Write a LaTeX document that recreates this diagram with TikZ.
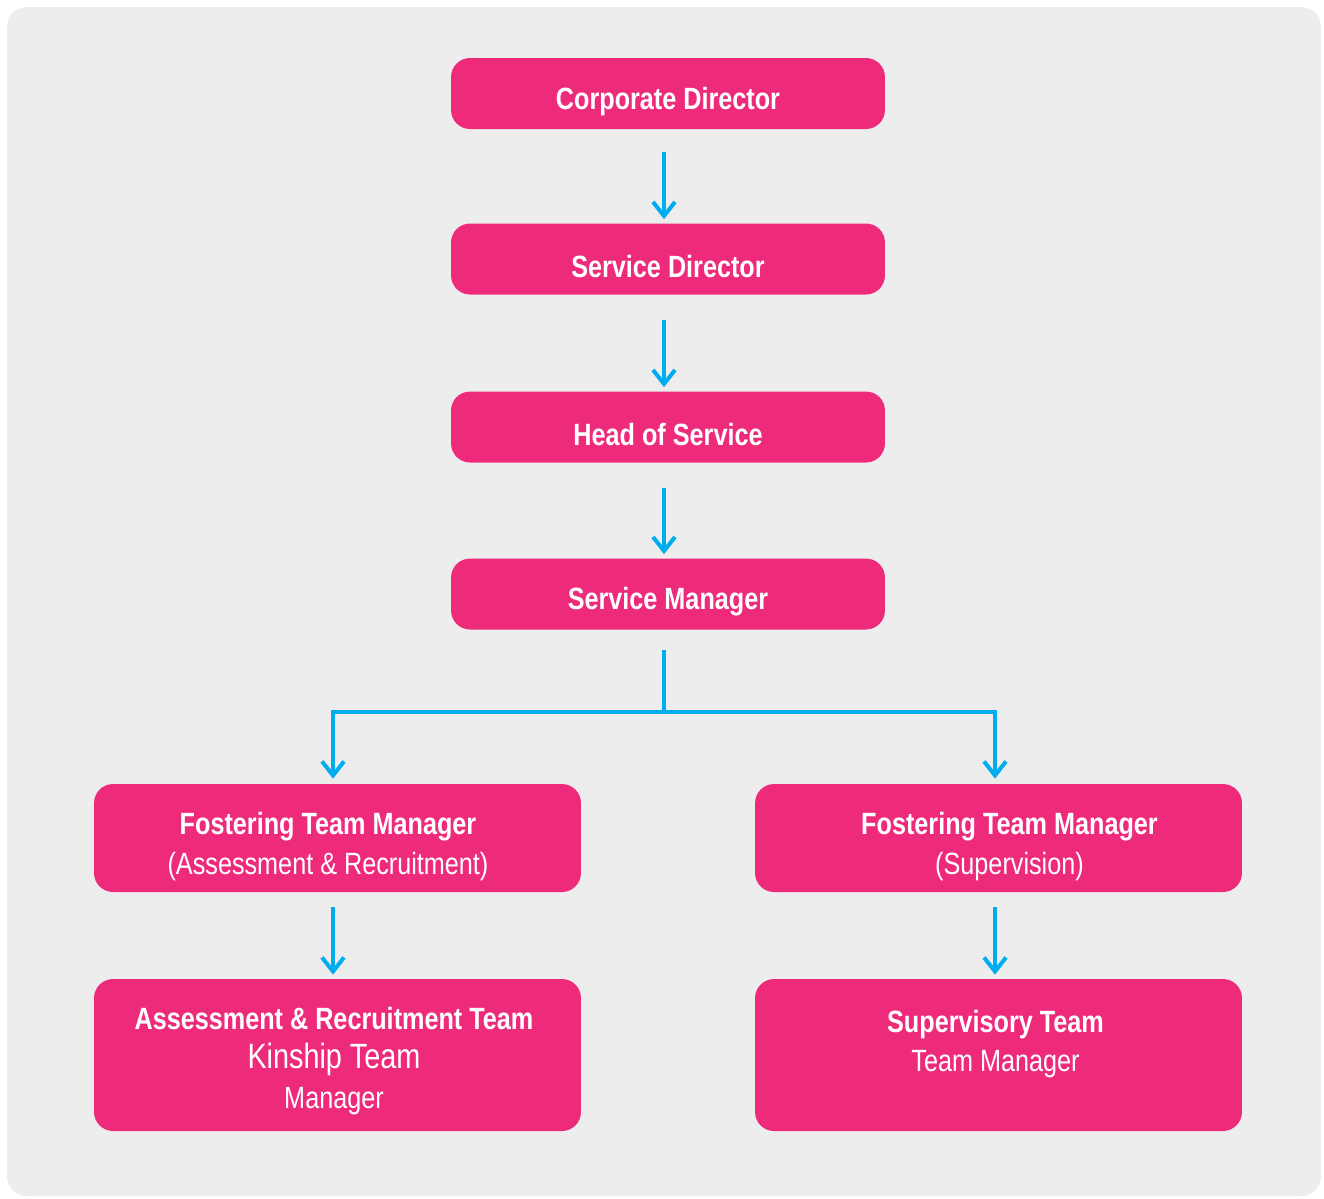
\documentclass[tikz,border=0pt]{standalone}
\usepackage{fontspec}
\setmainfont{Liberation Sans}[FakeStretch=0.82]
\usetikzlibrary{arrows.meta,positioning}

\definecolor{postpink}{RGB}{238,42,123}
\definecolor{linkblue}{RGB}{0,174,239}
\definecolor{panelgrey}{RGB}{237,237,237}

\tikzset{
  caption/.style={text=white, align=center, font=\fontsize{17.5}{22.5}\selectfont},
  post/.style={caption, fill=postpink, rounded corners=0.38cm,
    minimum width=8.68cm, minimum height=1.42cm,
    execute at begin node={\rule{0pt}{21.5pt}}},
  widepost/.style={post, minimum width=9.74cm, minimum height=2.16cm},
  tallpost/.style={widepost, minimum height=3.04cm},
  link/.style={linkblue, line width=0.08cm, -{Straight Barb[length=0.28cm,width=0.44cm]}},
}

\begin{document}
\begin{tikzpicture}[x=0.02cm,y=-0.02cm]

  % page and grey panel
  \useasboundingbox (0,0) rectangle (1324,1198);
  \fill[white] (0,0) rectangle (1324,1198);
  \fill[panelgrey, rounded corners=0.4cm] (7,7) rectangle (1321,1196);

  % chain of posts
  \node[post] (corp) at (668,93.5) {\textbf{Corporate Director}};
  \node[post] (sdir) at (668,259) {\textbf{Service Director}};
  \node[post] (head) at (668,427) {\textbf{Head of Service}};
  \node[post] (smgr) at (668,594) {\textbf{Service Manager}};

  % two branches
  \node[widepost, label={[caption, xshift=-0.19cm, yshift=-0.17cm]center:%
      \textbf{Fostering Team Manager}\\(Assessment \& Recruitment)}]
    (ftmar) at (337.5,838) {};
  \node[widepost, label={[caption, xshift=0.22cm, yshift=-0.17cm]center:%
      \textbf{Fostering Team Manager}\\(Supervision)}]
    (ftmsup) at (998.5,838) {};

  \node[tallpost, label={[caption, xshift=-0.07cm, yshift=-0.12cm]center:%
      \textbf{Assessment \& Recruitment Team}\\{\fontsize{20}{22.5}\selectfont Kinship Team}\\Manager}]
    (arteam) at (337.5,1055) {};
  \node[tallpost, label={[caption, xshift=-0.06cm, yshift=0.22cm]center:%
      \textbf{Supervisory Team}\\Team Manager}]
    (supteam) at (998.5,1055) {};

  % arrows
  \draw[link, shorten <=0.46cm, shorten >=0.08cm] ([xshift=-0.08cm]corp.south) -- ([xshift=-0.08cm]sdir.north);
  \draw[link, shorten <=0.5cm, shorten >=0.08cm] ([xshift=-0.08cm]sdir.south) -- ([xshift=-0.08cm]head.north);
  \draw[link, shorten <=0.5cm, shorten >=0.08cm] ([xshift=-0.08cm]head.south) -- ([xshift=-0.08cm]smgr.north);

  \draw[link, shorten >=0.1cm] ([xshift=-0.08cm]smgr.south) ++(0,20) -- ++(0,62) -| ([xshift=-0.09cm]ftmar.north);
  \draw[link, shorten >=0.1cm] ([xshift=-0.08cm]smgr.south) ++(0,20) -- ++(0,62) -| ([xshift=-0.07cm]ftmsup.north);

  \draw[link, shorten <=0.3cm, shorten >=0.08cm] ([xshift=-0.09cm]ftmar.south) -- ([xshift=-0.09cm]arteam.north);
  \draw[link, shorten <=0.3cm, shorten >=0.08cm] ([xshift=-0.07cm]ftmsup.south) -- ([xshift=-0.07cm]supteam.north);

\end{tikzpicture}
\end{document}
